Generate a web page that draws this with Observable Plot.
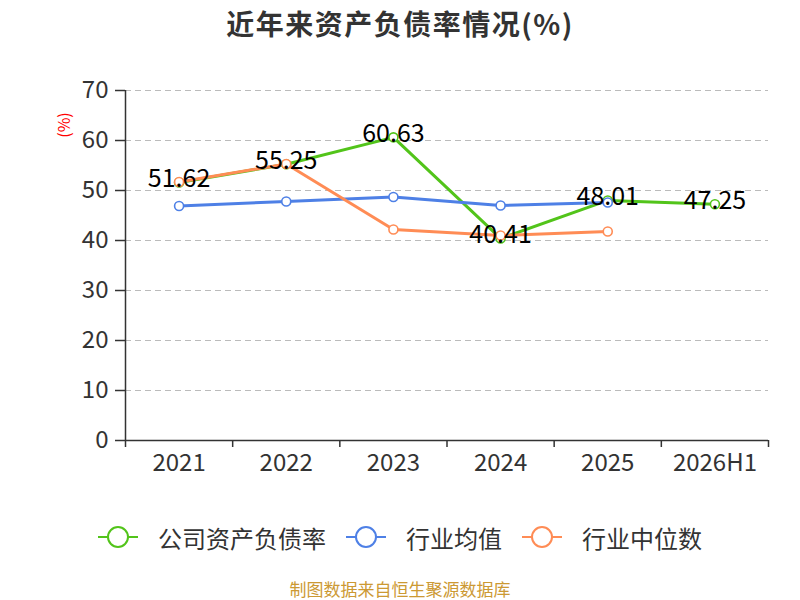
<!DOCTYPE html>
<html>
<head>
<meta charset="utf-8">
<script src="https://cdn.jsdelivr.net/npm/d3@7"></script>
<script src="https://cdn.jsdelivr.net/npm/@observablehq/plot@0.6"></script>
<style>
  body { margin: 0; background: #fff; font-family: "Noto Sans CJK SC", "Noto Sans", sans-serif; }
  #wrap { position: relative; width: 800px; height: 600px; overflow: hidden; }
  #title { height: 50px; line-height: 46px; text-align: center; font-size: 28px; letter-spacing: 1.5px; font-weight: bold; color: #333; }
  #ylab { position: absolute; left: 50px; top: 113px; width: 26px; text-align: center; color: #ff0000; font-size: 16px; transform: rotate(-90deg); }
  #legend { position: absolute; left: 0; top: 512px; width: 800px; height: 50px; display: flex; justify-content: center; align-items: center; gap: 20px; font-size: 24px; color: #333; }
  .item { display: flex; align-items: center; gap: 20px; }
  #footer { position: absolute; left: 0; top: 579px; width: 800px; height: 20px; line-height: 20px; text-align: center; font-size: 17px; color: #cc9933; }
</style>
</head>
<body>
<div id="wrap">
  <div id="title">近年来资产负债率情况(%)</div>
  <div id="ylab">(%)</div>
  <div id="chart"></div>
  <div id="legend"></div>
  <div id="footer">制图数据来自恒生聚源数据库</div>
</div>
<script>
const years = ["2021", "2022", "2023", "2024", "2025", "2026H1"];
const company = [51.62, 55.25, 60.63, 40.41, 48.01, 47.25];
const industryMean = [46.9, 47.8, 48.7, 47.0, 47.6];
const industryMedian = [51.7, 55.3, 42.2, 41.0, 41.8];
const yTicks = [0, 10, 20, 30, 40, 50, 60, 70];
const seriesNames = ["公司资产负债率", "行业均值", "行业中位数"];
const colors = ["#52c41a", "#4e80e6", "#ff8c55"];

const toRows = (arr) => arr.map((v, i) => ({i, v}));
const compRows = toRows(company);
const meanRows = toRows(industryMean);
const medRows = toRows(industryMedian);
const centers = years.map((_, i) => i);
const bounds = [...years.map((_, i) => i - 0.5), years.length - 0.5];

const lineMarks = (rows, color) => [
  Plot.line(rows, {x: "i", y: "v", stroke: color, strokeWidth: 3}),
  Plot.dot(rows, {x: "i", y: "v", r: 4.5, fill: "#fff", stroke: color, strokeWidth: 1.6})
];

const chart = Plot.plot({
  width: 800,
  height: 460,
  marginTop: 40,
  marginBottom: 70,
  marginLeft: 125,
  marginRight: 32,
  style: {fontFamily: "'Noto Sans CJK SC', sans-serif", background: "#fff"},
  x: {type: "linear", domain: [-0.5, years.length - 0.5]},
  y: {domain: [0, 70]},
  marks: [
    Plot.gridY(yTicks.filter(d => d > 0), {stroke: "#bbb", strokeOpacity: 1, strokeDasharray: "6,4", strokeWidth: 1.2}),
    Plot.axisY(yTicks, {tickSize: 10, tickPadding: 7, fontSize: 24, color: "#333", stroke: "#333", strokeWidth: 1.5, label: null}),
    Plot.axisX(centers, {tickSize: 0, tickPadding: 13, fontSize: 24, color: "#333", tickFormat: i => years[i], label: null}),
    Plot.axisX(bounds, {tickSize: 7, tickFormat: () => "", stroke: "#333", strokeWidth: 1.5, label: null}),
    Plot.ruleY([0], {stroke: "#333", strokeWidth: 1.5}),
    Plot.ruleX([-0.5], {stroke: "#333", strokeWidth: 1.5}),
    ...lineMarks(compRows, colors[0]),
    ...lineMarks(meanRows, colors[1]),
    ...lineMarks(medRows, colors[2]),
    Plot.text(compRows, {x: "i", y: "v", text: d => d.v.toFixed(2), fontSize: 25, fill: "#000", dy: -3, lineAnchor: "middle", textAnchor: "middle"})
  ]
});
document.getElementById("chart").appendChild(chart);

const legend = document.getElementById("legend");
seriesNames.forEach((name, k) => {
  const item = document.createElement("div");
  item.className = "item";
  item.innerHTML = `<svg width="40" height="24"><line x1="0" y1="12" x2="40" y2="12" stroke="${colors[k]}" stroke-width="2"/><circle cx="20" cy="12" r="10" fill="#fff" stroke="${colors[k]}" stroke-width="2"/></svg><span>${name}</span>`;
  legend.appendChild(item);
});
</script>
</body>
</html>
